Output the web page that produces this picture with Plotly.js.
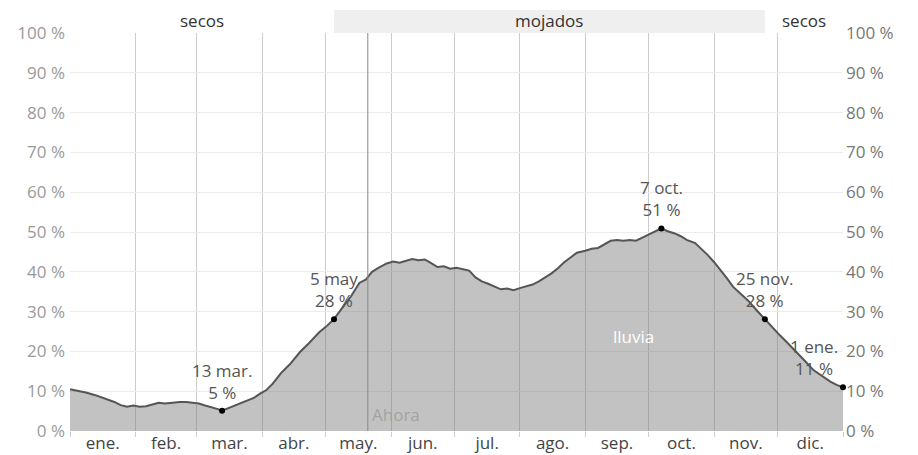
<!DOCTYPE html>
<html><head><meta charset="utf-8">
<script src="https://cdn.plot.ly/plotly-3.0.1.min.js"></script>
<style>html,body{margin:0;padding:0;background:#fff}#chart{width:918px;height:455px}</style>
</head><body><div id="chart"></div>
<script>
// Day offsets from 1 Jan 2024 (leap year; 366 = 1 Jan 2025)
const dayOffsets = [0,4,8,12,15,18,21,24,27,30,33,36,39,42,45,48,52,55,58,61,64,67,70,72,75,78,81,84,87,90,93,96,100,104,109,113,118,121,125,129,133,137,140,143,146,150,153,156,159,162,165,168,171,174,177,180,183,186,189,192,195,198,201,204,207,210,213,216,219,222,225,228,231,234,237,240,244,247,250,253,256,259,262,265,268,271,275,280,283,286,289,292,296,299,302,305,308,311,314,317,321,325,329,332,336,340,344,348,352,356,360,363,366];
const rainProbability = [10.5,10.1,9.6,9.0,8.4,8.0,7.3,6.5,6.1,6.4,6.1,6.2,6.6,7.1,6.9,7.1,7.3,7.3,7.1,6.9,6.4,6.0,5.5,5.1,5.7,6.5,7.0,7.6,8.3,9.4,10.3,11.9,14.6,16.7,19.9,22.0,24.8,26.1,28.1,31.0,33.8,37.2,38.0,40.0,41.0,42.1,42.6,42.3,42.8,43.2,42.9,43.1,42.2,41.2,41.4,40.8,41.0,40.6,40.3,38.6,37.6,37.0,36.4,35.6,35.8,35.4,35.9,36.4,36.8,37.6,38.5,39.6,40.9,42.4,43.6,44.8,45.3,45.8,46.0,47.0,47.8,48.0,47.8,48.0,47.8,48.6,49.7,50.9,50.2,49.7,49.0,48.0,47.2,45.8,44.2,42.4,40.5,38.4,36.2,34.8,32.8,30.4,28.1,26.2,24.1,22.0,19.9,17.6,15.3,13.9,12.4,11.6,11.0];
const monthLabels = ['ene.','feb.','mar.','abr.','may.','jun.','jul.','ago.','sep.','oct.','nov.','dic.'];
const highlightDays = [72,125,280,329,366];
const highlightLabels = ['13 mar.','5 may','7 oct.','25 nov.','1 ene.'];
const seasonLabels = ['secos','mojados','secos'];
const seasonStartDays = [0,125,329];
const seasonEndDays = [125,329,366];
const seasonShaded = [false,true,false];
const nowDay = 141;
const nowLabel = 'Ahora';
const seriesLabel = 'lluvia';
const seriesLabelDay = 267;
const seriesLabelValue = 23.8;

function toDate(d){
  const t = new Date(Date.UTC(2024,0,1+d));
  return t.toISOString().slice(0,10);
}
function fmt(ms){ return new Date(ms).toISOString().slice(0,19).replace('T',' '); }

const xDates = dayOffsets.map(toDate);
const tickvals = monthLabels.map((_,m)=>fmt((Date.UTC(2024,m,1)+Date.UTC(2024,m+1,1))/2));
const hlValues = highlightDays.map(d=>rainProbability[dayOffsets.indexOf(d)]);

const FONT = 'Open Sans, Noto Sans, sans-serif';

const traces = [
  {x:xDates, y:rainProbability, type:'scatter', mode:'lines', fill:'tozeroy',
   fillcolor:'rgba(120,120,120,0.45)', line:{color:'#555555', width:2}, hoverinfo:'skip', showlegend:false, cliponaxis:false},
  {x:highlightDays.map(toDate), y:hlValues, type:'scatter', mode:'markers', yaxis:'y2',
   marker:{color:'#000', size:6}, hoverinfo:'skip', showlegend:false, cliponaxis:false}
];

const shapes = [];
const annotations = [];
seasonLabels.forEach((lab,i)=>{
  if(seasonShaded[i]){
    shapes.push({type:'rect', xref:'x', yref:'paper', x0:toDate(seasonStartDays[i]), x1:toDate(seasonEndDays[i]),
      y0:1.0, y1:1.058, fillcolor:'#efefef', line:{width:0}, layer:'below'});
  }
  const mid = (seasonStartDays[i]+seasonEndDays[i])/2;
  annotations.push({xref:'x', yref:'paper', x:fmt(Date.UTC(2024,0,1)+mid*86400000), y:1.032, yanchor:'middle',
    text:lab, showarrow:false, font:{family:FONT, size:17, color:'#333'}});
});
shapes.push({type:'line', xref:'x', yref:'paper', x0:toDate(nowDay), x1:toDate(nowDay), y0:0, y1:1,
  line:{color:'#888', width:1}});
annotations.push({xref:'x', yref:'y', x:toDate(nowDay), y:4.2, xanchor:'left', yanchor:'middle', xshift:2,
  text:nowLabel, showarrow:false, font:{family:FONT, size:17, color:'#a3a3a3'}});
annotations.push({xref:'x', yref:'y', x:toDate(seriesLabelDay), y:seriesLabelValue, xanchor:'center', yanchor:'middle',
  text:seriesLabel, showarrow:false, font:{family:FONT, size:17, color:'#ffffff'}});
highlightDays.forEach((d,i)=>{
  const last = i===highlightDays.length-1;
  annotations.push({xref:'x', yref:'y', x:toDate(d), y:hlValues[i], xanchor:'center', yanchor:'bottom',
    yshift:5, xshift: last ? -29 : 0,
    text: highlightLabels[i]+'<br>'+Math.round(hlValues[i])+' %', showarrow:false,
    font:{family:FONT, size:17, color:'#555'}});
});

const layout = {
  width:918, height:455,
  margin:{l:70, r:75, t:33, b:24},
  paper_bgcolor:'#fff', plot_bgcolor:'#fff',
  font:{family:FONT},
  xaxis:{type:'date', range:['2024-01-01','2025-01-01'], tickmode:'array', tickvals:tickvals, ticktext:monthLabels,
    showgrid:false, ticks:'', zeroline:false, showline:false, tickfont:{size:17, color:'#444'},
    minor:{dtick:'M1', tick0:'2024-01-01', showgrid:true, gridcolor:'#cccccc', gridwidth:1, ticks:'outside', ticklen:5, tickcolor:'#cccccc'},
    fixedrange:true},
  yaxis:{range:[0,100], dtick:10, tick0:0, ticksuffix:' %', showgrid:true, gridcolor:'#ececec', zeroline:false,
    tickfont:{size:17, color:'#9a9a9a'}, ticks:'', ticklabelstandoff:4, fixedrange:true},
  yaxis2:{range:[0,100], dtick:10, tick0:0, ticksuffix:' %', overlaying:'y', side:'right', showgrid:false, zeroline:false,
    tickfont:{size:17, color:'#777'}, ticks:'', ticklabelstandoff:2, fixedrange:true},
  shapes:shapes, annotations:annotations, showlegend:false
};
Plotly.newPlot('chart', traces, layout, {displayModeBar:false, staticPlot:true});
</script></body></html>
